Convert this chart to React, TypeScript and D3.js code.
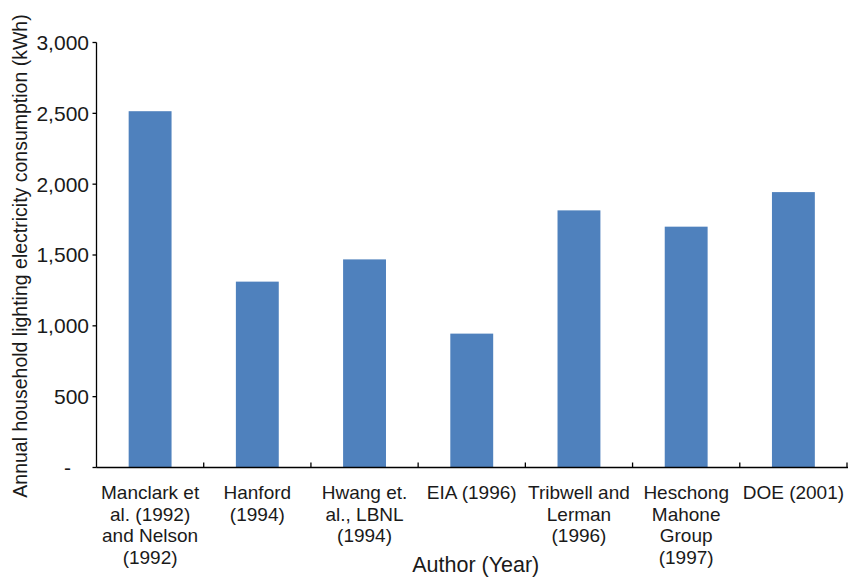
import React from "react";
import * as d3 from "d3";

const categories: string[][] = [
  ["Manclark et", "al. (1992)", "and Nelson", "(1992)"],
  ["Hanford", "(1994)"],
  ["Hwang et.", "al., LBNL", "(1994)"],
  ["EIA (1996)"],
  ["Tribwell and", "Lerman", "(1996)"],
  ["Heschong", "Mahone", "Group", "(1997)"],
  ["DOE (2001)"],
];
const values: number[] = [2515, 1312, 1469, 945, 1815, 1700, 1944];
const yTicks: number[] = [0, 500, 1000, 1500, 2000, 2500, 3000];
const yTitle = "Annual household lighting electricity consumption (kWh)";
const xTitle = "Author (Year)";

const W = 848;
const H = 577;
const left = 96.5;
const right = 847;
const top = 42.5;
const bottom = 467.5;
const font = "Arial, 'Liberation Sans', sans-serif";

export default function App() {
  const keys = categories.map((_, i) => String(i));
  const x = d3.scaleBand<string>().domain(keys).range([left, right]).paddingInner(0.6).paddingOuter(0.3);
  const y = d3.scaleLinear().domain([0, 3000]).range([bottom, top]);
  const step = x.step();
  const fmt = d3.format(",");
  return (
    <svg width={W} height={H} style={{ position: "absolute", left: 0, top: 0, background: "#fff" }} fontFamily={font}>
      {values.map((v, i) => (
        <rect key={i} x={x(String(i))} y={y(v)} width={x.bandwidth()} height={y(0) - y(v)} fill="#4F81BD" />
      ))}
      <line x1={left} x2={left} y1={top} y2={bottom} stroke="#000" strokeWidth={1.3} />
      <line x1={left} x2={right + 1} y1={bottom} y2={bottom} stroke="#000" strokeWidth={1.3} />
      {yTicks.map((t) => (
        <g key={t}>
          <line x1={left - 4} x2={left} y1={y(t)} y2={y(t)} stroke="#000" strokeWidth={1.3} />
          <text
            x={t === 0 ? 71 : 89}
            y={y(t)}
            dy="0.35em"
            textAnchor="end"
            fontSize={21}
            fill="#1a1a1a"
          >
            {t === 0 ? "-" : fmt(t)}
          </text>
        </g>
      ))}
      {keys.map((k, i) => (
        <line key={k} x1={left + step * (i + 1)} x2={left + step * (i + 1)} y1={bottom} y2={bottom - 5} stroke="#000" strokeWidth={1.3} />
      ))}
      {categories.map((lines, i) => (
        <text key={i} x={(x(String(i)) as number) + x.bandwidth() / 2} y={499} textAnchor="middle" fontSize={19} fill="#1a1a1a">
          {lines.map((l, j) => (
            <tspan key={j} x={(x(String(i)) as number) + x.bandwidth() / 2} dy={j === 0 ? 0 : 21.7}>
              {l}
            </tspan>
          ))}
        </text>
      ))}
      <text x={(left + right) / 2 + 4} y={572} textAnchor="middle" fontSize={21.5} fill="#1a1a1a">
        {xTitle}
      </text>
      <text transform={`translate(27,${(top + bottom) / 2 + 1}) rotate(-90)`} textAnchor="middle" fontSize={19.5} fill="#1a1a1a">
        {yTitle}
      </text>
    </svg>
  );
}
